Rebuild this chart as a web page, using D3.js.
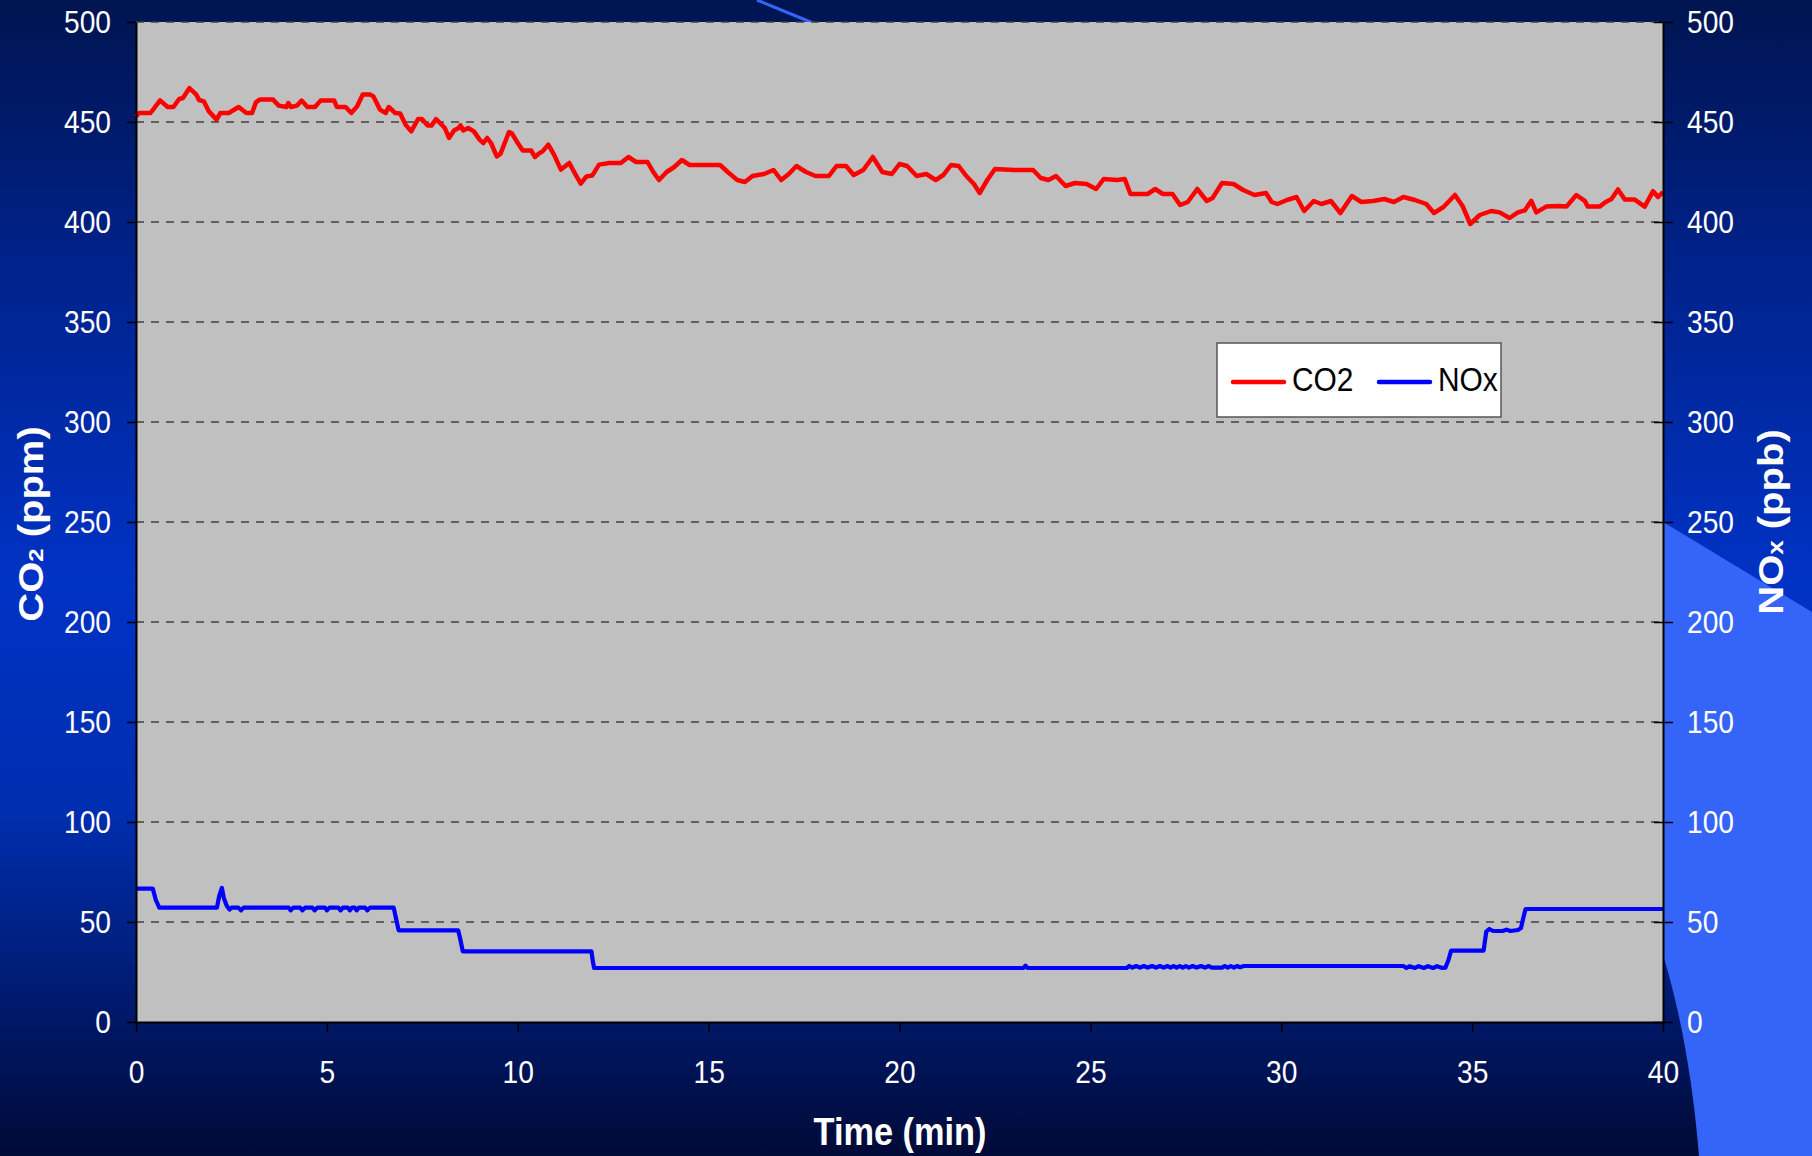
<!DOCTYPE html>
<html>
<head>
<meta charset="utf-8">
<script src="https://cdn.jsdelivr.net/npm/d3@7"></script>
<style>
  body { margin: 0; background: #000a36; }
  svg { display: block; }
  text { font-family: "Liberation Sans", Arial, sans-serif; fill: #fff; }
</style>
</head>
<body>
<svg id="chart" width="1812" height="1156"></svg>
<script>
// tick values
const timeTicks = [0, 5, 10, 15, 20, 25, 30, 35, 40];
const ppmTicks = [0, 50, 100, 150, 200, 250, 300, 350, 400, 450, 500];

// CO2 (ppm) vs time (min)
const co2Time = [0,0.08,0.38,0.63,0.83,0.98,1.13,1.23,1.40,1.58,1.65,1.78,1.91,2.11,2.21,2.43,2.69,2.89,3.04,3.14,3.24,3.59,3.74,3.94,3.99,4.06,4.22,4.34,4.49,4.69,4.84,5.19,5.26,5.49,5.64,5.79,5.94,6.14,6.22,6.39,6.54,6.62,6.79,6.92,7.06,7.21,7.39,7.49,7.64,7.74,7.86,8.09,8.20,8.33,8.45,8.50,8.57,8.70,8.85,9.0,9.1,9.2,9.30,9.45,9.55,9.77,9.85,10.0,10.13,10.35,10.45,10.55,10.65,10.80,10.95,11.13,11.35,11.50,11.65,11.80,11.95,12.13,12.4,12.7,12.9,13.1,13.4,13.55,13.7,13.9,14.1,14.3,14.5,14.9,15.3,15.5,15.75,15.95,16.15,16.45,16.7,16.9,17.1,17.3,17.55,17.8,18.15,18.35,18.6,18.8,19.05,19.3,19.55,19.8,20.0,20.2,20.45,20.7,20.95,21.15,21.35,21.55,21.75,21.95,22.1,22.3,22.5,23.0,23.5,23.7,23.9,24.1,24.35,24.6,24.9,25.15,25.35,25.7,25.9,26.05,26.5,26.7,26.9,27.15,27.35,27.55,27.8,28.05,28.2,28.45,28.75,29.0,29.3,29.6,29.75,29.9,30.15,30.4,30.6,30.85,31.05,31.3,31.55,31.85,32.1,32.4,32.7,32.95,33.2,33.5,33.8,34.0,34.25,34.55,34.75,34.95,35.2,35.5,35.72,35.98,36.2,36.38,36.55,36.68,36.94,37.25,37.47,37.73,37.95,38.03,38.34,38.5,38.65,38.82,39.0,39.26,39.52,39.74,39.87,40];
const co2 = [452.8,454.5,454.5,460.8,457.5,457.5,461.5,462,467,463.7,461,460.3,455.3,451.2,454.5,454.5,457.5,454.5,454.5,459.8,461.2,461.2,458.2,457.5,459.5,457.5,458.2,460.7,457.5,457.5,460.8,460.8,457.5,457.5,454.5,457.8,463.7,463.7,462.8,456.2,454.5,457.5,454.5,454.2,448.7,445.3,451.5,451.5,448.2,448.2,451.5,447,442,445.8,447,448.3,445.8,447,445.3,441.2,439.5,442,439.5,432.8,434.2,445,444.2,439.5,435.8,435.8,432.5,434.2,435.3,438.7,433.7,426.2,429.5,424.2,419.2,422.8,423.2,428.7,429.5,429.5,432.5,430,430,425,421,425,427.5,431,428.5,428.5,428.5,425,421,420,423,424,426,421,424,428,425,423,423,428,428,423.5,426,432.5,425,424,429,428,423,424,421,423.5,428.5,428,423,419,414.5,421,426.5,426,426,422,421,423,418,419.5,419,416.5,421.5,421,421.5,414,414,416.5,414,414,408.5,410,416.5,410.5,412,419.5,419,416,413.5,414.5,410,409,411,412.5,405.5,410.5,409,410.5,404.5,413,410,410.5,411.5,410,412.5,411,409,404.5,407.5,413.5,408,399,403.5,405.5,404.8,402,404.8,405.8,410.6,404.8,407.7,408,407.7,413.5,410.6,407.7,407.7,410,411.5,416.3,411.2,411.2,407.7,415.4,412.5,415];

// NOx (ppb) vs time (min)
const noxTime = [0,0.44,0.52,0.61,2.12,2.18,2.25,2.3,2.38,2.45,2.5,2.68,2.75,2.82,4.0,4.05,4.12,4.3,4.36,4.43,4.62,4.68,4.75,4.95,5.0,5.07,5.3,5.36,5.42,5.55,5.6,5.66,5.73,5.78,5.84,6.0,6.06,6.13,6.75,6.82,6.88,8.44,8.5,8.56,11.93,11.97,12.0,23.25,23.3,23.36,25.95,26.02,26.1,26.2,26.3,26.4,26.5,26.62,26.72,26.82,26.92,27.02,27.1,27.18,27.26,27.34,27.42,27.5,27.58,27.68,27.78,27.9,28.0,28.1,28.18,28.45,28.52,28.6,28.68,28.76,28.84,28.92,29.02,33.2,33.28,33.36,33.5,33.6,33.74,33.84,33.98,34.08,34.22,34.3,34.38,34.45,35.3,35.37,35.45,35.55,35.8,35.9,36.0,36.2,36.28,36.34,36.4,40];
const nox = [66.7,66.7,61,57.2,57.2,63,67,62,58,56.2,57.2,57.2,55.8,57.2,57.2,55.8,57.2,57.2,55.8,57.2,57.2,55.8,57.2,57.2,55.8,57.2,57.2,55.8,57.2,57.2,55.8,57.2,57.2,55.8,57.2,57.2,55.8,57.2,57.2,51,45.8,45.8,41,35.3,35.3,30,27,27,28.2,27,27,28,27.2,28,27.2,28,27.2,28,27.2,28,27.2,28,27.2,28,27.2,28,27.2,28,27.2,28,27.2,28,27.2,28,27.2,27.2,28,27.2,28,27.2,28,27.4,28,28,27,27.9,27,27.9,27,27.9,27,27.9,27,27.2,31,35.7,35.7,45.2,46.5,45.5,45.5,46.2,45.5,46,47,52,56.5,56.5];

const seriesNames = ["CO2", "NOx"];
const seriesColors = ["#ff0000", "#0000ff"];

const W = 1812, H = 1156;
const plot = { left: 136, right: 1663, top: 22, bottom: 1022 };
const SX = 0.88; // the source picture has narrow lettering

const svg = d3.select("#chart");

// background
const defs = svg.append("defs");
const grad = defs.append("linearGradient").attr("id", "bg").attr("x1", 0).attr("y1", 0).attr("x2", 0).attr("y2", 1);
[[0, "#001450"], [0.25, "#00238f"], [0.5, "#0032c4"], [0.7, "#002eb0"], [0.88, "#001868"], [1, "#000a36"]]
    .forEach(s => grad.append("stop").attr("offset", s[0]).attr("stop-color", s[1]));
svg.append("rect").attr("width", W).attr("height", H).attr("fill", "url(#bg)");

// light blue slide decoration
svg.append("path")
    .attr("d", "M1640,508 L1812,612 L1812,1156 L1699,1156 C1693,1080 1680,1010 1663,955 L1640,955 Z")
    .attr("fill", "#3465f8");
svg.append("line")
    .attr("x1", 757).attr("y1", 0).attr("x2", 830).attr("y2", 30)
    .attr("stroke", "#3366ff").attr("stroke-width", 3);

const x = d3.scaleLinear().domain([0, 40]).range([plot.left, plot.right]);
const yL = d3.scaleLinear().domain([0, 500]).range([plot.bottom, plot.top]);
const yR = d3.scaleLinear().domain([0, 500]).range([plot.bottom, plot.top]);

svg.append("rect")
    .attr("x", plot.left).attr("y", plot.top)
    .attr("width", plot.right - plot.left).attr("height", plot.bottom - plot.top)
    .attr("fill", "#c0c0c0");

// dashed gridlines
svg.append("g").selectAll("line")
    .data(ppmTicks.filter(d => d > 0))
    .join("line")
    .attr("x1", plot.left).attr("x2", plot.right)
    .attr("y1", d => yL(d)).attr("y2", d => yL(d))
    .attr("stroke", "#404040").attr("stroke-width", 1.4)
    .attr("stroke-dasharray", "8,7");

// series lines
const co2Data = co2Time.map((t, i) => [t, co2[i]]);
const noxData = noxTime.map((t, i) => [t, nox[i]]);

svg.append("path")
    .datum(co2Data)
    .attr("d", d3.line().x(d => x(d[0])).y(d => yL(d[1])))
    .attr("fill", "none").attr("stroke", seriesColors[0])
    .attr("stroke-width", 4.5).attr("stroke-linejoin", "round");

svg.append("path")
    .datum(noxData)
    .attr("d", d3.line().x(d => x(d[0])).y(d => yR(d[1])))
    .attr("fill", "none").attr("stroke", seriesColors[1])
    .attr("stroke-width", 4.2).attr("stroke-linejoin", "round");

function squeeze(g, attr) {
    g.selectAll("text").each(function () {
        const t = d3.select(this);
        t.attr("transform", "scale(" + SX + ",1)");
        if (attr) t.attr(attr, (+t.attr(attr) || 0) / SX);
    });
}

function styleAxis(g) {
    g.select(".domain").attr("stroke", "#000").attr("stroke-width", 2);
    g.selectAll(".tick line").attr("stroke", "#000").attr("stroke-width", 1.5);
    g.selectAll("text").attr("fill", "#fff").attr("font-size", 32)
        .attr("font-family", '"Liberation Sans", Arial, sans-serif');
}

// left axis
const gL = svg.append("g").attr("transform", "translate(" + plot.left + ",0)")
    .call(d3.axisLeft(yL).tickValues(ppmTicks).tickSizeInner(9).tickSizeOuter(0).tickPadding(16));
styleAxis(gL);
squeeze(gL, "x");

// right axis (ticks cross the axis)
const gR = svg.append("g").attr("transform", "translate(" + plot.right + ",0)")
    .call(d3.axisRight(yR).tickValues(ppmTicks).tickSizeInner(10).tickSizeOuter(0).tickPadding(14));
styleAxis(gR);
gR.selectAll(".tick line").attr("x1", -9);
squeeze(gR, "x");

// bottom axis
const gB = svg.append("g").attr("transform", "translate(0," + plot.bottom + ")")
    .call(d3.axisBottom(x).tickValues(timeTicks).tickSizeInner(10).tickSizeOuter(0).tickPadding(28));
styleAxis(gB);
squeeze(gB, null);

// axis titles
svg.append("text")
    .attr("transform", "translate(900,1145) scale(" + SX + ",1)")
    .attr("text-anchor", "middle").attr("font-size", 39).attr("font-weight", "bold")
    .text("Time (min)");

const tL = svg.append("text")
    .attr("transform", "translate(43,524) rotate(-90) scale(1," + SX + ")")
    .attr("text-anchor", "middle").attr("font-size", 40).attr("font-weight", "bold");
tL.append("tspan").text("CO");
tL.append("tspan").attr("font-size", 24).text("2");
tL.append("tspan").text(" (ppm)");

const tR = svg.append("text")
    .attr("transform", "translate(1783,522) rotate(-90) scale(1," + SX + ")")
    .attr("text-anchor", "middle").attr("font-size", 40).attr("font-weight", "bold");
tR.append("tspan").text("NO");
tR.append("tspan").attr("font-size", 26).text("x");
tR.append("tspan").text(" (ppb)");

// legend
const lg = svg.append("g");
lg.append("rect")
    .attr("x", 1217).attr("y", 343).attr("width", 284).attr("height", 74)
    .attr("fill", "#fff").attr("stroke", "#555").attr("stroke-width", 1.5);
const legendX = [1233, 1379];
seriesNames.forEach((name, i) => {
    lg.append("line")
        .attr("x1", legendX[i]).attr("x2", legendX[i] + 51)
        .attr("y1", 382).attr("y2", 382)
        .attr("stroke", seriesColors[i]).attr("stroke-width", 4.5).attr("stroke-linecap", "round");
    lg.append("text")
        .attr("transform", "translate(" + (legendX[i] + 59) + ",391) scale(" + SX + ",1)")
        .attr("font-size", 34).style("fill", "#000")
        .text(name);
});
</script>
</body>
</html>
